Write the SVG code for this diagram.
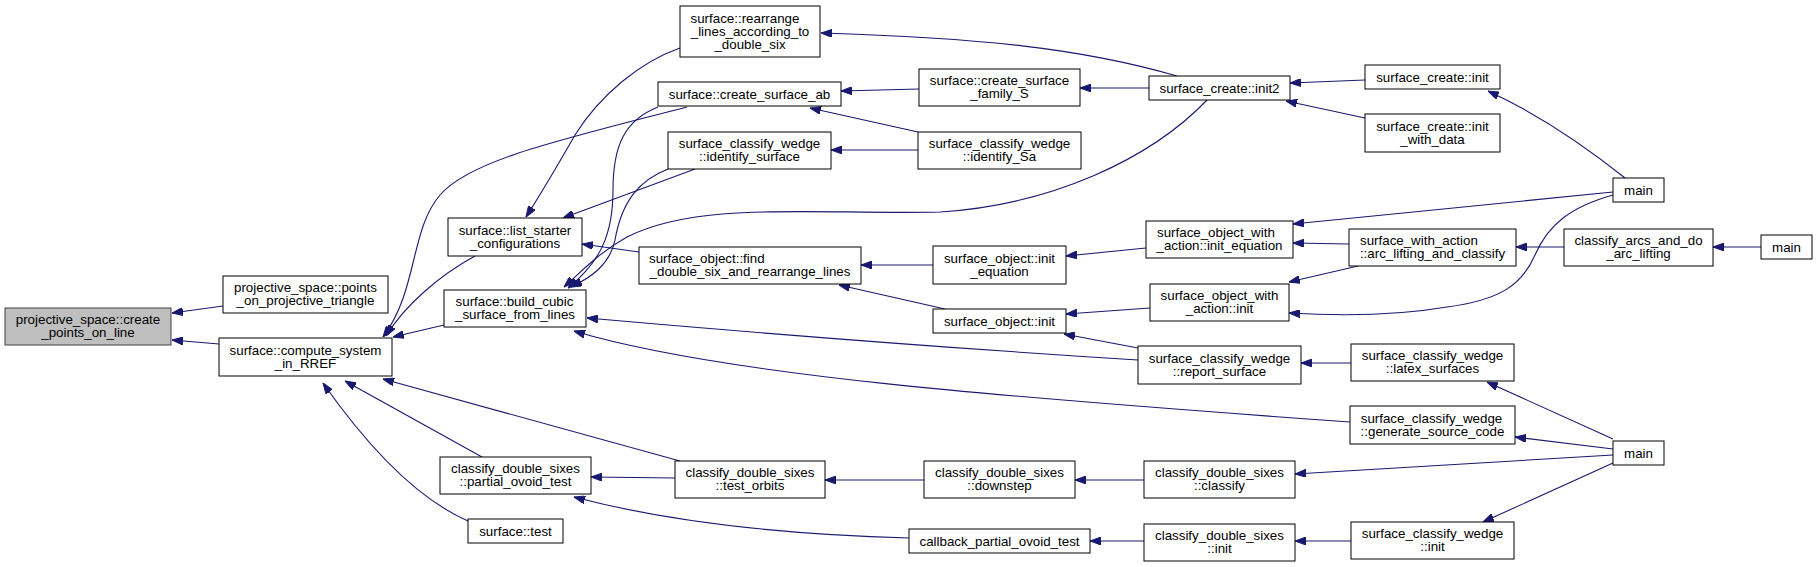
<svg xmlns="http://www.w3.org/2000/svg" width="1817" height="567" viewBox="0 0 1817 567">
<style>
.n rect{fill:#fff;stroke:#000;stroke-width:1}
.n.hl rect{fill:#bfbfbf;stroke:#404040}
.n text{font-family:"Liberation Sans",Arial,sans-serif;font-size:13.33px;fill:#000;text-anchor:middle}
.n text.l{text-anchor:start}
#edges path{fill:none;stroke:#191970;stroke-width:1.1;marker-end:url(#ah)}
</style>
<defs>
<marker id="ah" viewBox="0 0 11 8" refX="11" refY="4" markerWidth="11" markerHeight="8" markerUnits="userSpaceOnUse" orient="auto">
<path d="M0,0 L11,4 L0,8 z" fill="#191970" stroke="#191970" stroke-width="1"/>
</marker>
</defs>
<rect width="1817" height="567" fill="#fff"/>
<g id="edges">
<path d="M223,306 L172,313"/>
<path d="M219,344 L172,340"/>
<path d="M475,256 C440,275 405,305 386,336"/>
<path d="M444,325 L393,337"/>
<path d="M687,107 C560,140 470,160 440,195 C410,230 418,290 383,337"/>
<path d="M680,48 C640,62 600,95 575,135 C555,170 540,195 526,217"/>
<path d="M695,169 L563,218"/>
<path d="M639,252 L582,244"/>
<path d="M658,107 C625,120 613,145 613,190 C613,235 600,262 568,288"/>
<path d="M668,169 C640,180 622,200 615,240 C610,265 590,278 571,287"/>
<path d="M1208,99 C1150,160 1050,205 940,212 C820,215 700,200 627,237 C600,252 585,268 564,287"/>
<path d="M1138,360 C900,345 700,328 587,318"/>
<path d="M1350,422 C1000,397 720,375 574,331"/>
<path d="M680,461 L383,379"/>
<path d="M482,457 L345,381"/>
<path d="M468,521 C420,500 370,450 323,383"/>
<path d="M675,478 L591,477"/>
<path d="M909,538 C800,535 680,525 574,497"/>
<path d="M924,480 L825,480"/>
<path d="M1144,480 L1075,480"/>
<path d="M1613,455 L1295,474"/>
<path d="M1144,541 L1090,541"/>
<path d="M1351,541 L1295,541"/>
<path d="M1613,463 L1483,522"/>
<path d="M1613,439 L1487,382"/>
<path d="M1613,449 L1515,437"/>
<path d="M1351,363 L1301,363"/>
<path d="M1150,308 L1066,314"/>
<path d="M1138,348 L1064,334"/>
<path d="M945,309 L839,285"/>
<path d="M933,265 L861,265"/>
<path d="M1146,248 L1066,256"/>
<path d="M1613,192 L1293,224"/>
<path d="M1349,244 L1293,243"/>
<path d="M1358,266 L1289,282"/>
<path d="M1613,195 C1570,207 1548,225 1535,255 C1522,285 1500,300 1447,307 C1400,315 1340,316 1289,313"/>
<path d="M1564,247 L1516,247"/>
<path d="M1761,247 L1713,247"/>
<path d="M1625,178 C1590,150 1540,115 1488,91"/>
<path d="M1365,80 L1290,83"/>
<path d="M1365,118 L1286,101"/>
<path d="M1149,88 L1080,88"/>
<path d="M1177,76 C1080,48 980,38 821,33"/>
<path d="M919,89 L841,91"/>
<path d="M918,132 L810,108"/>
<path d="M918,150 L831,150"/>
</g>
<g id="n0" class="n hl"><rect x="5" y="308" width="166" height="37"/><text x="88" y="324">projective_space::create</text><text x="88" y="337">_points_on_line</text></g>
<g id="n1" class="n"><rect x="223" y="276" width="165" height="37"/><text x="305.5" y="292">projective_space::points</text><text x="305.5" y="305">_on_projective_triangle</text></g>
<g id="n2" class="n"><rect x="219" y="338" width="173" height="38"/><text x="305.5" y="354.5">surface::compute_system</text><text x="305.5" y="367.5">_in_RREF</text></g>
<g id="n3" class="n"><rect x="680" y="6" width="140" height="51"/><text x="745" y="22.5">surface::rearrange</text><text x="750" y="35.5">_lines_according_to</text><text x="750" y="48.5">_double_six</text></g>
<g id="n4" class="n"><rect x="658" y="82" width="183" height="24"/><text x="749.5" y="98.5">surface::create_surface_ab</text></g>
<g id="n5" class="n"><rect x="668" y="132" width="163" height="37"/><text x="749.5" y="148">surface_classify_wedge</text><text x="749.5" y="161">::identify_surface</text></g>
<g id="n6" class="n"><rect x="448" y="218" width="134" height="38"/><text x="515" y="234.5">surface::list_starter</text><text x="515" y="247.5">_configurations</text></g>
<g id="n7" class="n"><rect x="639" y="247" width="222" height="37"/><text class="l" x="649" y="263">surface_object::find</text><text x="750" y="276">_double_six_and_rearrange_lines</text></g>
<g id="n8" class="n"><rect x="1149" y="76" width="141" height="24"/><text x="1219.5" y="92.5">surface_create::init2</text></g>
<g id="n9" class="n"><rect x="919" y="69" width="161" height="37"/><text x="999.5" y="85">surface::create_surface</text><text x="999.5" y="98">_family_S</text></g>
<g id="n10" class="n"><rect x="918" y="132" width="163" height="37"/><text x="999.5" y="148">surface_classify_wedge</text><text x="999.5" y="161">::identify_Sa</text></g>
<g id="n11" class="n"><rect x="933" y="246" width="133" height="38"/><text x="999.5" y="262.5">surface_object::init</text><text x="999.5" y="275.5">_equation</text></g>
<g id="n12" class="n"><rect x="1146" y="221" width="147" height="37"/><text class="l" x="1157" y="237">surface_object_with</text><text x="1219.5" y="250">_action::init_equation</text></g>
<g id="n13" class="n"><rect x="933" y="309" width="133" height="24"/><text x="999.5" y="325.5">surface_object::init</text></g>
<g id="n14" class="n"><rect x="1150" y="284" width="139" height="37"/><text x="1219.5" y="300">surface_object_with</text><text x="1219.5" y="313">_action::init</text></g>
<g id="n15" class="n"><rect x="1138" y="346" width="163" height="38"/><text x="1219.5" y="362.5">surface_classify_wedge</text><text x="1219.5" y="375.5">::report_surface</text></g>
<g id="n16" class="n"><rect x="924" y="461" width="151" height="37"/><text x="999.5" y="477">classify_double_sixes</text><text x="999.5" y="490">::downstep</text></g>
<g id="n17" class="n"><rect x="1144" y="461" width="151" height="37"/><text x="1219.5" y="477">classify_double_sixes</text><text x="1219.5" y="490">::classify</text></g>
<g id="n18" class="n"><rect x="909" y="529" width="181" height="24"/><text x="999.5" y="545.5">callback_partial_ovoid_test</text></g>
<g id="n19" class="n"><rect x="1144" y="524" width="151" height="37"/><text x="1219.5" y="540">classify_double_sixes</text><text x="1219.5" y="553">::init</text></g>
<g id="n20" class="n"><rect x="1365" y="65" width="135" height="24"/><text x="1432.5" y="81.5">surface_create::init</text></g>
<g id="n21" class="n"><rect x="1365" y="114" width="135" height="38"/><text x="1432.5" y="130.5">surface_create::init</text><text x="1432.5" y="143.5">_with_data</text></g>
<g id="n22" class="n"><rect x="1613" y="178" width="51" height="24"/><text x="1638.5" y="194.5">main</text></g>
<g id="n23" class="n"><rect x="1349" y="229" width="167" height="37"/><text class="l" x="1360" y="245">surface_with_action</text><text x="1432.5" y="258">::arc_lifting_and_classify</text></g>
<g id="n24" class="n"><rect x="1564" y="229" width="149" height="37"/><text x="1638.5" y="245">classify_arcs_and_do</text><text x="1638.5" y="258">_arc_lifting</text></g>
<g id="n25" class="n"><rect x="1761" y="235" width="51" height="24"/><text x="1786.5" y="251.5">main</text></g>
<g id="n26" class="n"><rect x="1351" y="344" width="163" height="37"/><text x="1432.5" y="360">surface_classify_wedge</text><text x="1432.5" y="373">::latex_surfaces</text></g>
<g id="n27" class="n"><rect x="1350" y="406" width="165" height="38"/><text x="1431.5" y="422.5">surface_classify_wedge</text><text x="1432.5" y="435.5">::generate_source_code</text></g>
<g id="n28" class="n"><rect x="1613" y="441" width="51" height="24"/><text x="1638.5" y="457.5">main</text></g>
<g id="n29" class="n"><rect x="1351" y="522" width="163" height="37"/><text x="1432.5" y="538">surface_classify_wedge</text><text x="1432.5" y="551">::init</text></g>
<g id="n30" class="n"><rect x="444" y="290" width="142" height="37"/><text x="514.5" y="306">surface::build_cubic</text><text x="515" y="319">_surface_from_lines</text></g>
<g id="n31" class="n"><rect x="440" y="457" width="151" height="37"/><text x="515.5" y="473">classify_double_sixes</text><text x="515.5" y="486">::partial_ovoid_test</text></g>
<g id="n32" class="n"><rect x="468" y="519" width="95" height="24"/><text x="515.5" y="535.5">surface::test</text></g>
<g id="n33" class="n"><rect x="675" y="461" width="150" height="37"/><text x="750" y="477">classify_double_sixes</text><text x="750" y="490">::test_orbits</text></g>
</svg>
